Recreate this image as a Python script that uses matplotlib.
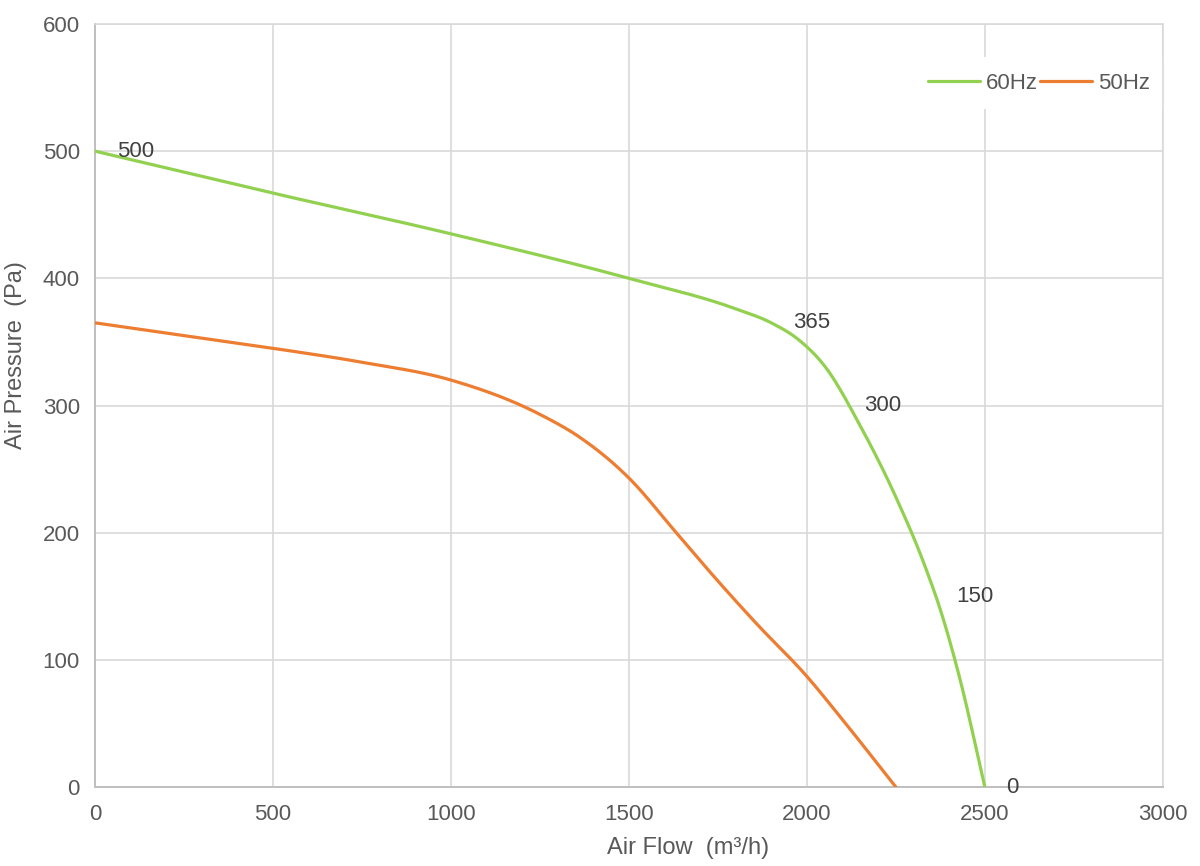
import numpy as np
import matplotlib
matplotlib.use("Agg")
import matplotlib.pyplot as plt

plt.rcParams['font.family'] = ['Liberation Sans', 'DejaVu Sans']

# 60Hz curve
flow_60 = [0, 500, 1000, 1500, 1800, 1900, 1980, 2050, 2150, 2250, 2330, 2380, 2430, 2500]
press_60 = [500, 467, 435, 400, 376, 365, 351, 331, 284, 228, 175, 135, 85, 0]
# points that carry a data label
label_flow_60 = [0, 1900, 2100, 2360, 2500]
label_press_60 = [500, 365, 300, 150, 0]

# 50Hz curve
flow_50 = [0, 250, 500, 750, 1000, 1250, 1362, 1500, 1633, 1750, 1860, 2000, 2100, 2250]
press_50 = [365, 355, 345, 334, 320, 293, 275, 243, 200, 162, 128, 87, 53, 0]

x_ticks = [0, 500, 1000, 1500, 2000, 2500, 3000]
y_ticks = [0, 100, 200, 300, 400, 500, 600]


def smooth(xs, ys, n=40):
    # cubic hermite through the points, tangents from the neighbours
    x = np.asarray(xs, float)
    y = np.asarray(ys, float)
    h = np.diff(x)
    d = np.diff(y) / h
    m = np.empty_like(y)
    m[0], m[-1] = d[0], d[-1]
    m[1:-1] = (h[1:] * d[:-1] + h[:-1] * d[1:]) / (h[:-1] + h[1:])
    px, py = [], []
    for i in range(len(x) - 1):
        t = np.linspace(0, 1, n)
        if i > 0:
            t = t[1:]
        h00 = 2 * t ** 3 - 3 * t ** 2 + 1
        h10 = t ** 3 - 2 * t ** 2 + t
        h01 = -2 * t ** 3 + 3 * t ** 2
        h11 = t ** 3 - t ** 2
        px.append(x[i] + t * h[i])
        py.append(h00 * y[i] + h10 * h[i] * m[i] + h01 * y[i + 1] + h11 * h[i] * m[i + 1])
    return np.concatenate(px), np.concatenate(py)


fig = plt.figure(figsize=(12, 8.66), dpi=100)
ax = fig.add_axes([0.0792, 0.0912, 0.8898, 0.8811])

green = '#92d050'
orange = '#ed7d31'
grid_c = '#d9d9d9'
text_c = '#595959'

gx, gy = smooth(flow_60, press_60)
ox, oy = smooth(flow_50, press_50)
ax.plot(gx, gy, color=green, lw=2.3, label='60Hz', solid_capstyle='round', zorder=3)
ax.plot(ox, oy, color=orange, lw=2.3, label='50Hz', solid_capstyle='round', zorder=3)

for fx, py in zip(label_flow_60, label_press_60):
    ax.annotate(str(py), (fx, py), xytext=(15.5, 0), textcoords='offset points',
                ha='left', va='center', fontsize=16, color='#404040', zorder=4)

ax.set_xlim(0, 3000)
ax.set_ylim(0, 600)
ax.set_xticks(x_ticks)
ax.set_yticks(y_ticks)
ax.grid(True, color=grid_c, lw=1.2, zorder=0)
ax.set_axisbelow(True)
ax.tick_params(length=0, labelsize=16, labelcolor=text_c)
ax.tick_params(axis='x', pad=12)
ax.tick_params(axis='y', pad=11)

for s in ['top', 'right']:
    ax.spines[s].set_color(grid_c)
    ax.spines[s].set_linewidth(1.2)
for s in ['left', 'bottom']:
    ax.spines[s].set_color('#bfbfbf')
    ax.spines[s].set_linewidth(1.4)

ax.set_xlabel('Air Flow  (m³/h)', fontsize=17, color=text_c)
ax.set_ylabel('Air Pressure  (Pa)', fontsize=17, color=text_c)
ax.xaxis.set_label_coords((688 - 95) / 1068, -0.065)
ax.yaxis.set_label_coords(-0.064, (787 - 355) / 763)

leg = ax.legend(loc='upper right', bbox_to_anchor=(1.009, 0.965), ncol=2, frameon=True,
                fontsize=16, handlelength=2.3, handletextpad=0.3, columnspacing=0.1,
                borderpad=0.7, borderaxespad=0.3)
leg.get_frame().set_facecolor('white')
leg.get_frame().set_edgecolor('none')
leg.get_frame().set_alpha(1)
leg.set_zorder(2.4)  # keep the frame spines on top of the white box
for t in leg.get_texts():
    t.set_color(text_c)

fig.savefig('out.png', dpi=100)
